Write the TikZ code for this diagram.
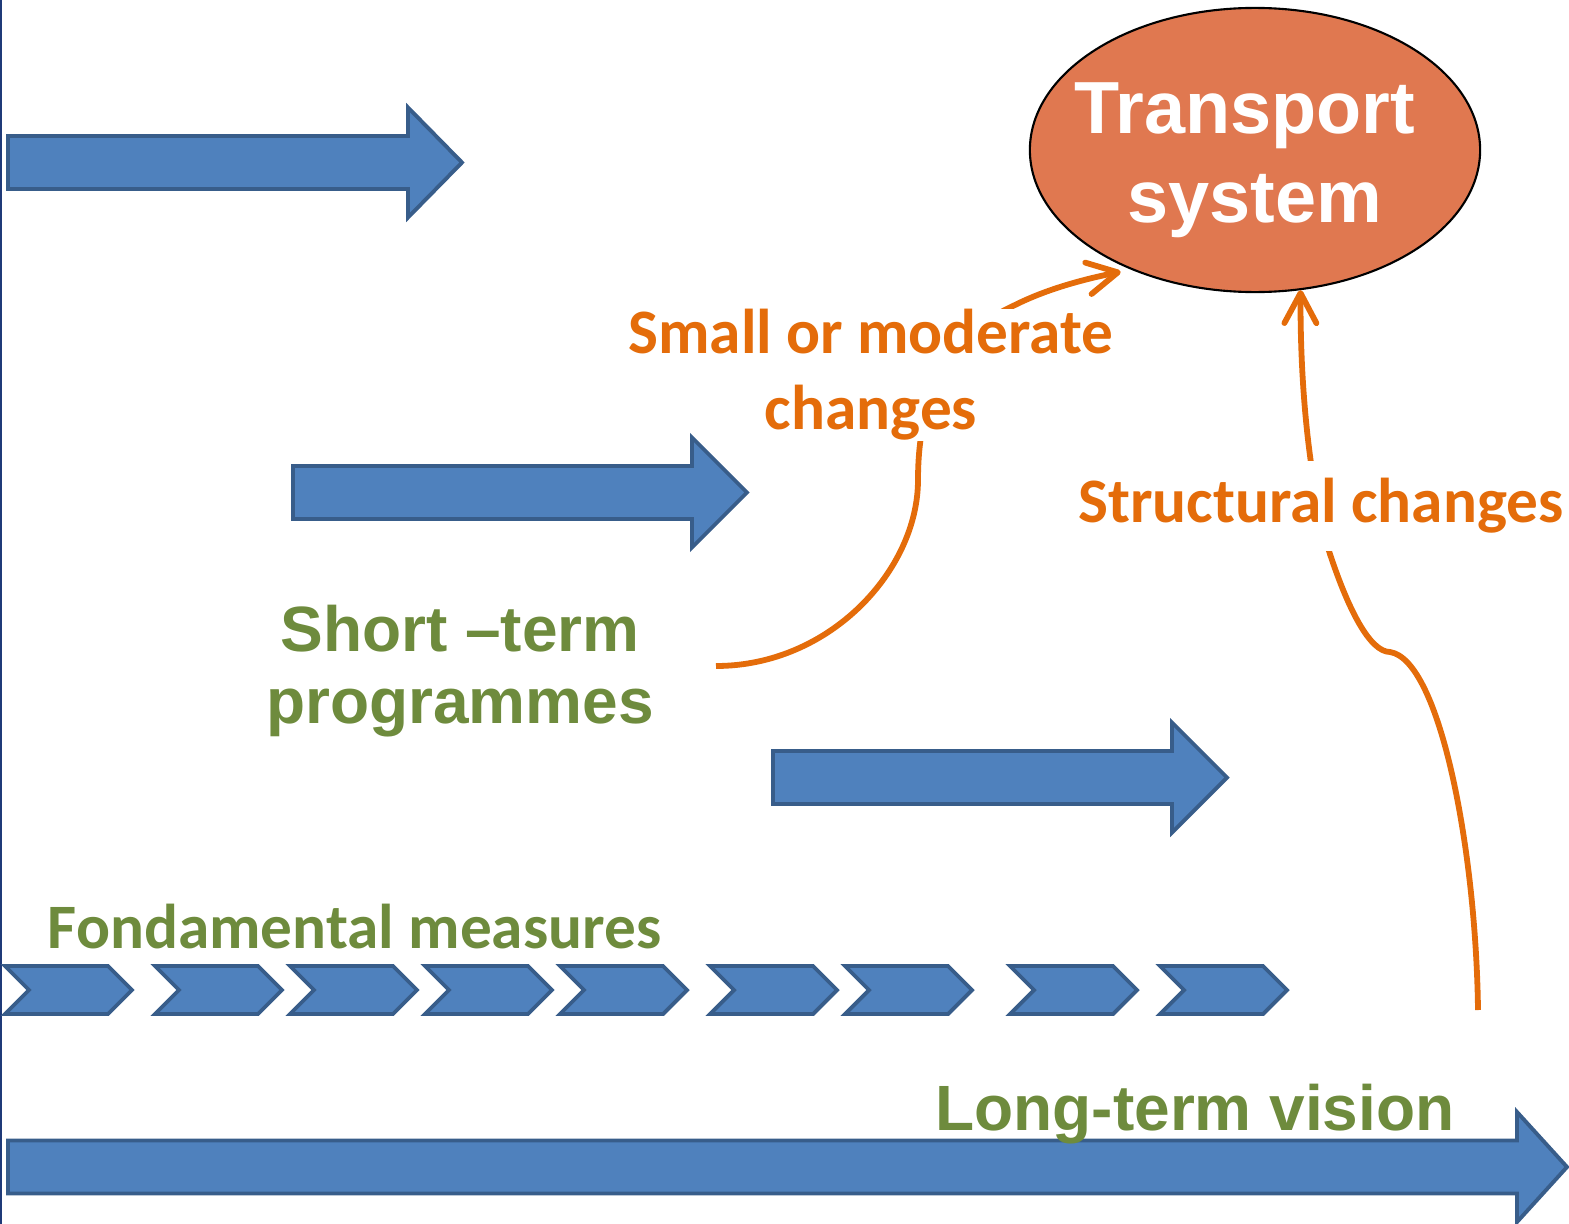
\documentclass[tikz,border=0pt]{standalone}
\usepackage{fontspec}
\usetikzlibrary{shapes.geometric,arrows.meta}

\newfontfamily\arialfont{Liberation Sans}
\newfontfamily\calibfont{Carlito}

\definecolor{arrowblue}{HTML}{4F81BD}
\definecolor{arrowedge}{HTML}{385D8A}
\definecolor{sysfill}{HTML}{E07850}
\definecolor{changeorange}{HTML}{E46C0A}
\definecolor{labelgreen}{HTML}{6E8B3D}
\definecolor{edgenavy}{HTML}{1F3A78}

\tikzset{
  blockarrow/.style={draw=arrowedge, fill=arrowblue, line width=1.1pt, line join=miter},
  sysnode/.style={ellipse, draw=black, line width=0.6pt, fill=sysfill,
    minimum width=4.5cm, minimum height=2.84cm, inner sep=0pt},
  systext/.style={text=white, align=center, inner sep=0pt,
    font=\arialfont\bfseries\fontsize{21}{25.3}\selectfont},
  greenlabel/.style={text=labelgreen, align=center, inner sep=0pt,
    font=\arialfont\bfseries\fontsize{18.2}{20.5}\selectfont},
  measurelabel/.style={text=labelgreen, inner sep=0pt,
    font=\calibfont\bfseries\fontsize{18}{21.6}\selectfont},
  changelabel/.style={text=changeorange, fill=white, align=center, inner xsep=0pt,
    font=\calibfont\bfseries\fontsize{18}{21.6}\selectfont},
  change/.style={draw=changeorange, line width=1.65pt,
    -{Straight Barb[length=3mm,width=3.2mm,round]}}
}

% block arrow: start x, head base x, tip x, middle y
\newcommand{\bluearrow}[4]{%
  \draw[blockarrow] (#1,#4-26.5) -- (#2,#4-26.5) -- (#2,#4-55) -- (#3,#4)
    -- (#2,#4+55) -- (#2,#4+26.5) -- (#1,#4+26.5) -- cycle;}

\begin{document}
\begin{tikzpicture}[x=0.01cm, y=-0.01cm]
  \useasboundingbox (0,0) rectangle (1569,1224);
  \fill[edgenavy] (0,0) rectangle (2.5,1224);

  \node[sysnode] (sys) at (1255,150) {};
  \node[systext] (systxt) at (1255,160) {Transport\hspace*{0.2cm}\\system};

  \node[greenlabel] (stp) at (460,671) {Short –term\\programmes};

  \coordinate (stp-out) at (716,666);
  \coordinate (ltv-out) at (1478,1010);

  % changes towards the transport system
  \draw[change, shorten >=3pt] (stp-out) .. controls (830,666) and (918,570) .. (918,480)
    .. controls (918,380) and (960,330) .. (1015,305)
    .. controls (1045,290) and (1080,280) .. (sys.224);
  \draw[change] (ltv-out) .. controls (1476,850) and (1440,660) .. (1390,652)
    .. controls (1370,652) and (1348,610) .. (1328,548)
    .. controls (1316,505) and (1300,420) .. (sys.288);

  \node[changelabel, inner ysep=0pt] (smc) at (871,375) {Small or moderate\\changes};
  \node[changelabel, minimum height=0.9cm] (stc) at (1321,506) {Structural changes};

  \bluearrow{8}{408}{462}{162.5}
  \bluearrow{293}{692}{747}{492.5}
  \bluearrow{773}{1172}{1227}{777.5}
  \bluearrow{8}{1517}{1567}{1167}

  \foreach \cx in {5,155,290,425,560,710,845,1010,1160}
    \draw[blockarrow] (\cx,966) -- ++(103,0) -- ++(24,24) -- ++(-24,24)
      -- ++(-103,0) -- ++(24,-24) -- cycle;

  \node[measurelabel, anchor=base] (fm) at (354.5,948) {Fondamental measures};
  \node[greenlabel, anchor=base] (ltv) at (1195,1130) {Long-term vision};
\end{tikzpicture}
\end{document}
